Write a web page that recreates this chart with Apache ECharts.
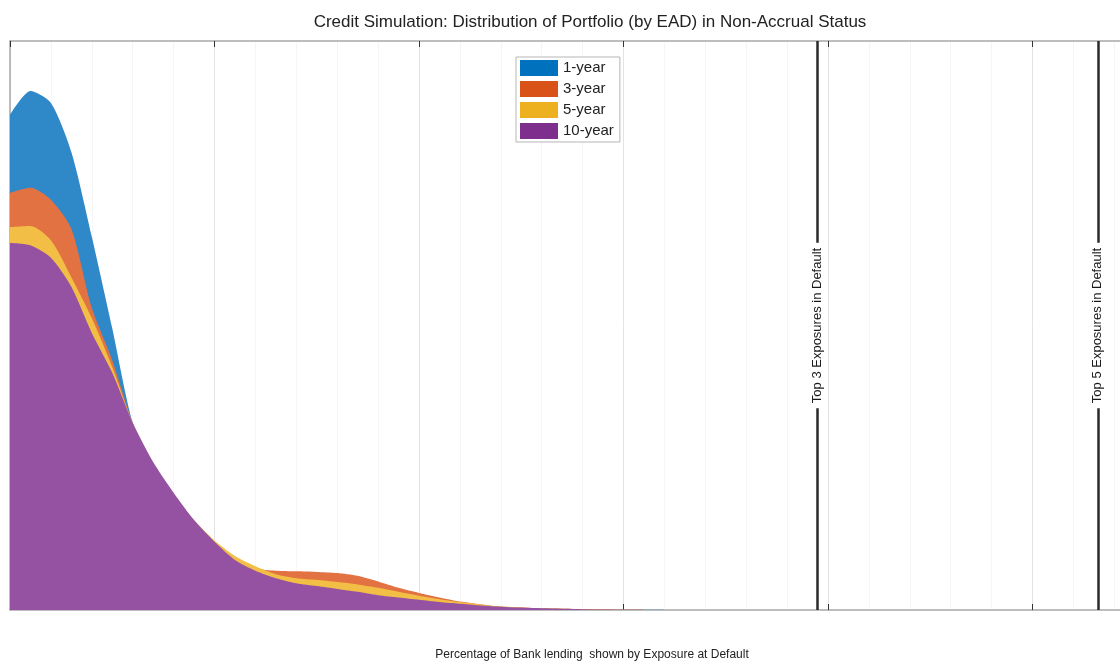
<!DOCTYPE html>
<html>
<head>
<meta charset="utf-8">
<title>Credit Simulation</title>
<script src="https://cdn.jsdelivr.net/npm/echarts@6/dist/echarts.min.js"></script>
<style>
  html, body { margin: 0; padding: 0; background: #fff; }
  #main { width: 1120px; height: 662px; }
</style>
</head>
<body>
<div id="main"></div>
<script>
"use strict";
// x positions (grid units along the EAD axis), shared by all series
var xs = [0, 0.5, 1, 1.5, 2, 2.5, 3, 3.5, 4, 4.5, 5, 5.5, 6, 6.5, 7, 7.5, 8, 8.5, 9, 9.5, 10, 10.5, 11, 12, 13, 14, 15, 16];
// density heights (percent of plot height)
var oneYear = [87.0, 91.2, 89.1, 80.5, 65.6, 49.5, 32.9, 25.5, 20.0, 15.2, 11.5, 8.3, 6.3, 4.9, 4.0, 3.5, 3.0, 2.5, 2.1, 1.7, 1.4, 1.0, 0.8, 0.4, 0.2, 0.08, 0.03, 0.01];
var threeYear = [73.3, 74.2, 72.1, 67.0, 53.1, 43.9, 32.9, 25.5, 19.8, 15.0, 11.2, 8.4, 7.3, 6.9, 6.8, 6.7, 6.5, 6.0, 5.0, 3.9, 3.0, 2.2, 1.5, 0.6, 0.3, 0.15, 0.06, 0.02];
var fiveYear = [67.3, 67.5, 65.0, 58.5, 51.3, 42.7, 32.9, 25.8, 20.4, 15.8, 12.2, 9.5, 7.7, 6.3, 5.6, 5.3, 4.9, 4.5, 3.9, 3.2, 2.5, 1.9, 1.4, 0.6, 0.3, 0.15, 0.06, 0.02];
var tenYear = [64.5, 64.1, 61.9, 56.8, 48.7, 41.7, 32.9, 26.0, 20.6, 15.8, 12.0, 8.8, 6.9, 5.6, 4.7, 4.2, 3.7, 3.2, 2.6, 2.2, 1.8, 1.4, 1.1, 0.55, 0.3, 0.15, 0.06, 0.02];

var seriesNames = ['1-year', '3-year', '5-year', '10-year'];
var seriesColors = ['#0072BD', '#D95319', '#EDB120', '#7E2F8E'];
var areaColors = ['#2F88C8', '#E27242', '#F2BE45', '#9552A3'];

// reference lines
var refNames = ['Top 3 Exposures in Default', 'Top 5 Exposures in Default'];
var refValues = [19.73, 26.6];

var FONT = '"Liberation Sans", Arial, Helvetica, sans-serif';
// visible part of the axis (the plot runs on past the right edge of the figure)
var X_MAX = 27.14;

function pairs(vals) {
  return xs.map(function (x, i) { return [x, vals[i]]; });
}

var chart = echarts.init(document.getElementById('main'));

var allValues = [oneYear, threeYear, fiveYear, tenYear];
var series = allValues.map(function (vals, i) {
  return {
    name: seriesNames[i],
    type: 'line',
    data: pairs(vals),
    smooth: 0.25,
    showSymbol: false,
    color: seriesColors[i],
    lineStyle: { width: 0 },
    areaStyle: { color: areaColors[i], opacity: 1 },
    silent: true,
    z: 2 + i
  };
});

// vertical exposure lines
series.push({
  name: 'refs',
  type: 'line',
  data: [],
  z: 10,
  markLine: {
    silent: true,
    symbol: 'none',
    lineStyle: { color: '#2a2a2a', width: 2.5, type: 'solid' },
    label: {
      show: true,
      position: 'middle',
      formatter: '{b}',
      distance: 0,
      verticalAlign: 'middle',
      color: '#1a1a1a',
      fontSize: 13,
      fontFamily: FONT,
      backgroundColor: '#fff',
      padding: [0, 5]
    },
    data: refValues.map(function (v, i) { return { name: refNames[i], xAxis: v }; })
  }
});

var xAxisBase = {
  type: 'value',
  min: 0,
  max: X_MAX,
  interval: 5,
  axisLabel: { show: false },
  axisLine: { show: true, lineStyle: { color: '#a8a8a8', width: 1.5 } },
  axisTick: { show: true, inside: true, length: 6, lineStyle: { color: '#333', width: 1 } },
  splitLine: { show: true, lineStyle: { color: '#e3e3e3', width: 1 } },
  minorTick: { show: false, splitNumber: 5 },
  minorSplitLine: { show: true, lineStyle: { color: '#ececec', width: 1, type: 'dotted' } }
};

var option = {
  backgroundColor: '#fff',
  animation: false,
  grid: { left: 10, top: 41, bottom: 52, right: 0, containLabel: false },
  legend: {
    orient: 'vertical',
    left: 516,
    top: 57,
    padding: [3, 6, 3, 4],
    itemWidth: 38,
    itemHeight: 16,
    itemGap: 5,
    icon: 'rect',
    borderColor: '#b5b5b5',
    borderWidth: 1,
    backgroundColor: '#fff',
    textStyle: { fontSize: 15, color: '#222', fontFamily: FONT },
    data: seriesNames
  },
  xAxis: [
    xAxisBase,
    Object.assign({}, xAxisBase, {
      position: 'top',
      splitLine: { show: false },
      minorSplitLine: { show: false }
    })
  ],
  yAxis: {
    type: 'value',
    min: 0,
    max: 100,
    axisLabel: { show: false },
    axisTick: { show: false },
    axisLine: { show: true, lineStyle: { color: '#a8a8a8', width: 1.5 } },
    splitLine: { show: false }
  },
  graphic: [
    {
      type: 'text',
      x: 590,
      y: 22,
      style: {
        text: 'Credit Simulation: Distribution of Portfolio (by EAD) in Non-Accrual Status',
        fill: '#222',
        font: '17px ' + FONT,
        textAlign: 'center',
        textVerticalAlign: 'middle'
      }
    },
    {
      type: 'text',
      x: 592,
      y: 655,
      style: {
        text: 'Percentage of Bank lending  shown by Exposure at Default',
        fill: '#222',
        font: '12px ' + FONT,
        textAlign: 'center',
        textVerticalAlign: 'middle'
      }
    }
  ],
  series: series
};

chart.setOption(option);
console.log('chart drawn');
</script>
</body>
</html>
